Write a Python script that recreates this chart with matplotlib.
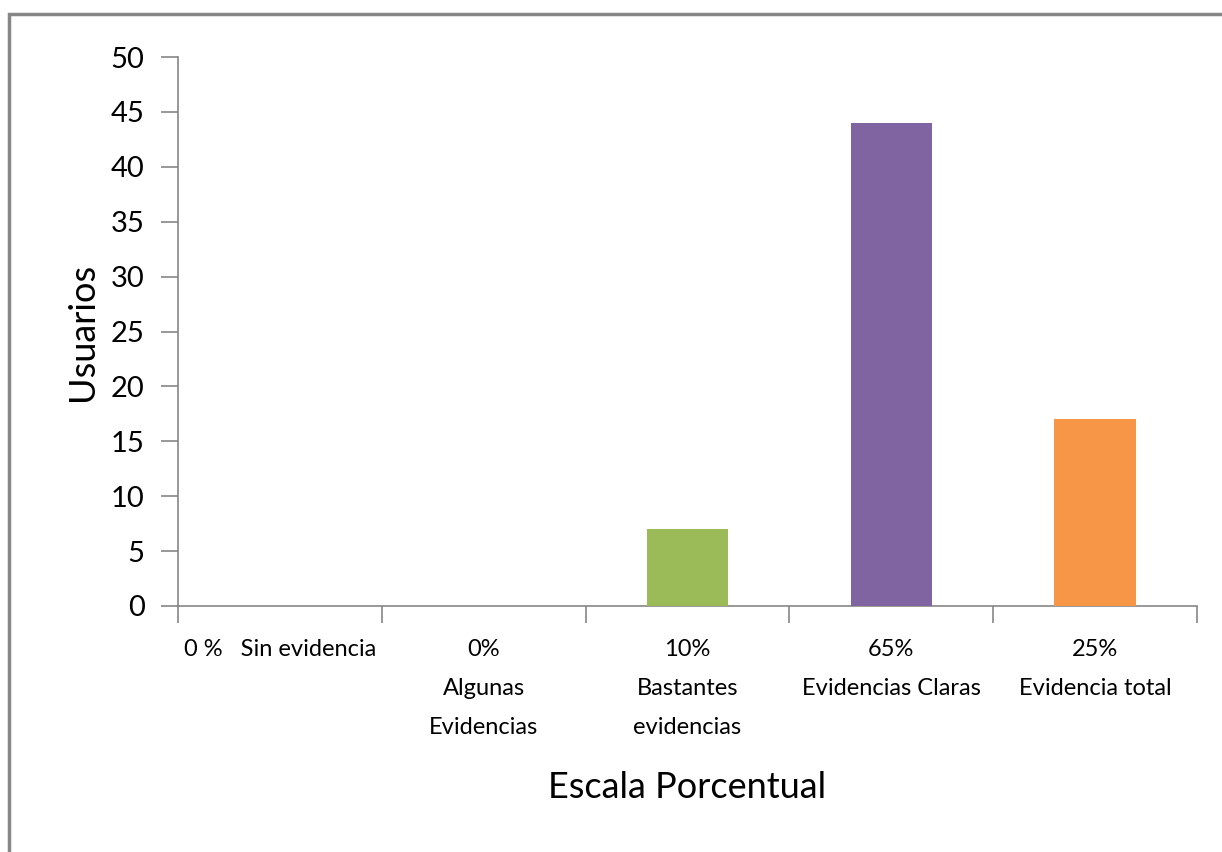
import matplotlib.pyplot as plt
from matplotlib.patches import Rectangle

CATEGORIES = [
    "0 %   Sin evidencia",
    "0%\nAlgunas\nEvidencias",
    "10%\nBastantes\nevidencias",
    "65%\nEvidencias Claras",
    "25%\nEvidencia total",
]
USUARIOS = [0, 0, 7, 44, 17]
COLORS = ["#4F81BD", "#C0504D", "#9BBB59", "#8064A2", "#F79646"]

AXIS_GRAY = "#868686"

plt.rcParams["font.family"] = ["Lato", "DejaVu Sans"]

fig = plt.figure(figsize=(12.22, 8.52), dpi=100)
ax = fig.add_axes([178 / 1222, 1 - 606 / 852, (1197 - 178) / 1222, (606 - 57) / 852])

x = list(range(len(CATEGORIES)))
ax.bar(x, USUARIOS, width=0.4, color=COLORS, zorder=3)

ax.set_xlim(-0.5, len(CATEGORIES) - 0.5)
ax.set_ylim(0, 50)
ax.set_yticks(range(0, 51, 5))
ax.tick_params(axis="y", labelsize=21, length=12, width=1.2, color=AXIS_GRAY, pad=12)

# category labels centred, tick marks on the boundaries
ax.set_xticks(x)
ax.set_xticklabels(CATEGORIES, fontsize=17, linespacing=2.05, va="top")
ax.tick_params(axis="x", which="major", length=0, pad=24)
ax.set_xticks([i - 0.5 for i in range(len(CATEGORIES) + 1)], minor=True)
ax.tick_params(axis="x", which="minor", length=12, width=1.2, color=AXIS_GRAY)

for side in ["top", "right"]:
    ax.spines[side].set_visible(False)
for side in ["left", "bottom"]:
    ax.spines[side].set_color(AXIS_GRAY)
    ax.spines[side].set_linewidth(1.2)

ax.set_ylabel("Usuarios", fontsize=26)
ax.yaxis.set_label_coords(-0.078, 0.50)
ax.set_xlabel("Escala Porcentual", fontsize=26)
ax.xaxis.set_label_coords(0.5, -0.3)

# chart frame
fig.patches.append(Rectangle((9 / 1222, -0.1), 1.2, 0.1 + (852 - 14) / 852,
                             transform=fig.transFigure, fill=False,
                             edgecolor="#878787", linewidth=2.5))

fig.savefig("out.png", dpi=100)
